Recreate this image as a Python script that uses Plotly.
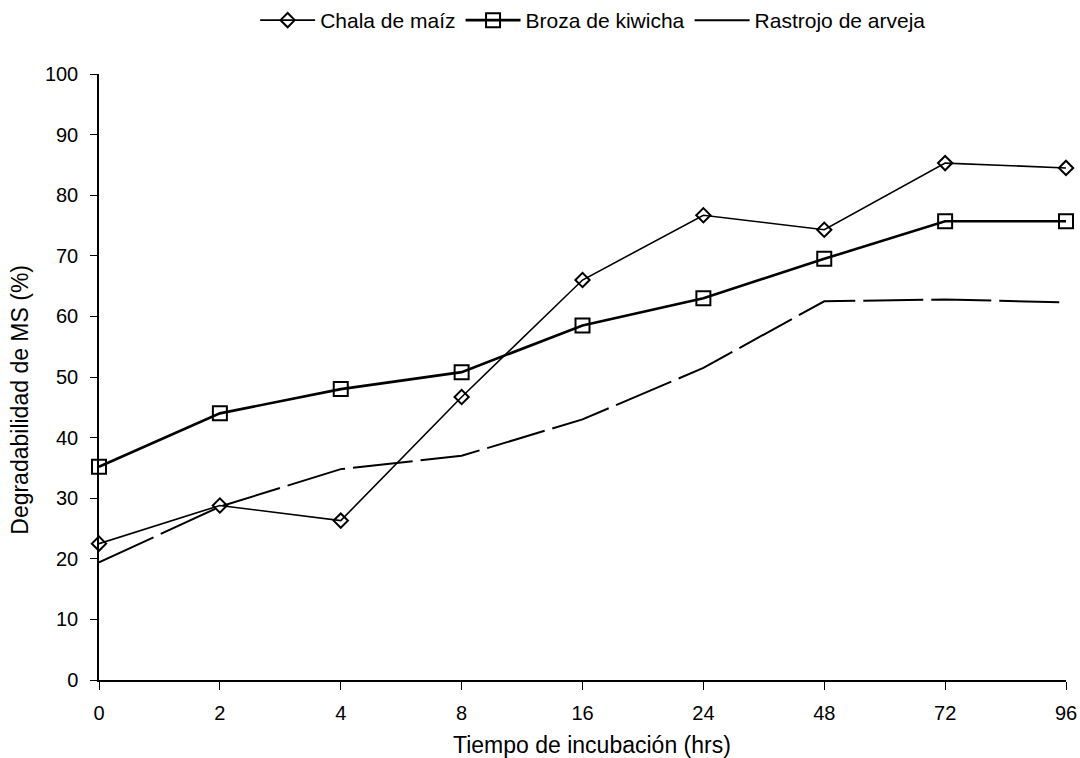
import plotly.graph_objects as go

categories = ["0", "2", "4", "8", "16", "24", "48", "72", "96"]
chala_maiz = [22.5, 28.8, 26.3, 46.7, 66.0, 76.7, 74.3, 85.3, 84.5]
broza_kiwicha = [35.2, 44.0, 48.0, 50.8, 58.5, 63.0, 69.5, 75.7, 75.7]
rastrojo_arveja = [19.4, 28.6, 34.8, 37.0, 43.0, 51.5, 62.5, 62.8, 62.3]
y_ticks = [0, 10, 20, 30, 40, 50, 60, 70, 80, 90, 100]

xpos = list(range(len(categories)))
font = "Liberation Sans, Arial, sans-serif"

fig = go.Figure()
fig.add_trace(go.Scatter(
    x=xpos, y=chala_maiz, name="Chala de maíz", mode="lines+markers",
    line=dict(color="black", width=1.6),
    marker=dict(symbol="diamond-open", size=11, color="black", line=dict(width=2)),
    cliponaxis=False))
fig.add_trace(go.Scatter(
    x=xpos, y=broza_kiwicha, name="Broza de kiwicha", mode="lines+markers",
    line=dict(color="black", width=2.6),
    marker=dict(symbol="square-open", size=14, color="black", line=dict(width=2)),
    cliponaxis=False))
fig.add_trace(go.Scatter(
    x=xpos, y=rastrojo_arveja, name="Rastrojo de arveja", mode="lines",
    line=dict(color="black", width=2, dash="60px,8px"),
    cliponaxis=False))

fig.update_layout(
    width=1080, height=758,
    paper_bgcolor="white", plot_bgcolor="white",
    margin=dict(l=99, r=14, t=74, b=78),
    font=dict(family=font, size=20, color="black"),
    showlegend=True,
    legend=dict(orientation="h", x=0.511, xanchor="center", y=1.0, yanchor="top",
                yref="container", font=dict(size=21), itemwidth=55,
                tracegroupgap=0),
    xaxis=dict(range=[0, 8], tickmode="array", tickvals=xpos, ticktext=categories,
               tickfont=dict(size=20), automargin=False, ticklabelstandoff=6,
               showgrid=False, zeroline=False, showline=True, linecolor="black",
               linewidth=1.5, ticks="outside", ticklen=8, tickcolor="black"),
    yaxis=dict(range=[0, 100], tickmode="array", tickvals=y_ticks,
               tickfont=dict(size=20), automargin=False, ticklabelstandoff=8,
               showgrid=False, zeroline=False, showline=True, linecolor="black",
               linewidth=1.5, ticks="outside", ticklen=7, tickcolor="black"),
    annotations=[
        dict(text="Tiempo de incubación (hrs)", xref="paper", yref="paper",
             x=0.51, y=-0.108, xanchor="center", yanchor="middle",
             showarrow=False, font=dict(size=23)),
        dict(text="Degradabilidad de MS (%)", xref="paper", yref="paper",
             x=-0.082, y=0.462, xanchor="center", yanchor="middle", textangle=-90,
             showarrow=False, font=dict(size=23)),
    ],
)

fig.write_html(
    "out.html",
    config={"displayModeBar": False},
    post_script="document.body.style.margin='0';document.body.style.overflow='hidden';",
)
